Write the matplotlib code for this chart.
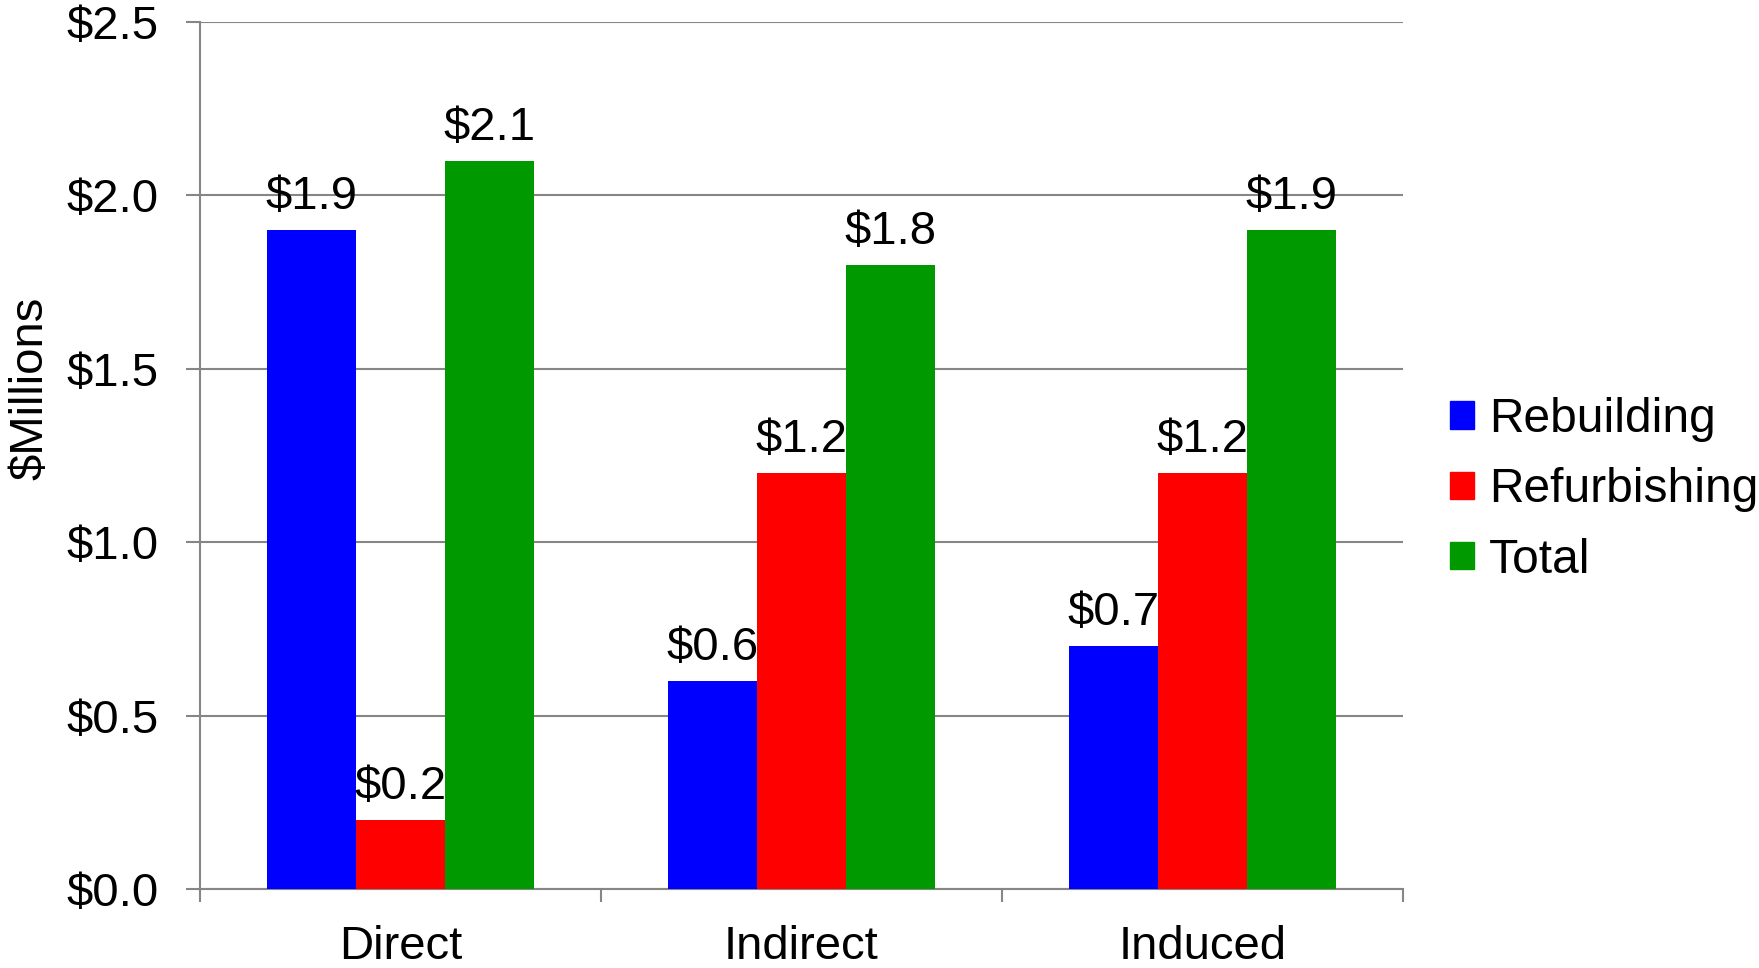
import matplotlib.pyplot as plt
import numpy as np
from matplotlib.patches import Rectangle


categories = ["Direct", "Indirect", "Induced"]
series_names = ["Rebuilding", "Refurbishing", "Total"]
rebuilding = [1.9, 0.6, 0.7]
refurbishing = [0.2, 1.2, 1.2]
total = [2.1, 1.8, 1.9]
y_ticks = [0.0, 0.5, 1.0, 1.5, 2.0, 2.5]

COLORS = ["#0000FF", "#FF0000", "#009900"]
GRID = "#868686"
FONT_SIZE = 34

plt.rcParams["font.family"] = ["Liberation Sans", "DejaVu Sans"]


def main():
    fig = plt.figure(figsize=(17.59, 9.68), dpi=100)
    ax = fig.add_axes([0.1137, 0.0816, 0.6839, 0.8957])

    x = np.arange(len(categories))
    bar_width = 1 / 4.5  # excel gap width 150%
    values = [rebuilding, refurbishing, total]

    for i, (name, vals) in enumerate(zip(series_names, values)):
        offset = (i - 1) * bar_width
        bars = ax.bar(x + offset, vals, width=bar_width, color=COLORS[i],
                      label=name, zorder=3)
        for rect, v in zip(bars, vals):
            ax.annotate(f"${v:.1f}",
                        (rect.get_x() + rect.get_width() / 2, v),
                        xytext=(0, 8), textcoords="offset points",
                        ha="center", va="bottom", fontsize=FONT_SIZE, zorder=4)

    ax.set_xlim(-0.5, len(categories) - 0.5)
    ax.set_ylim(0, 2.5)

    ax.set_yticks(y_ticks)
    ax.set_yticklabels([f"${t:.1f}" for t in y_ticks])
    ax.grid(axis="y", color=GRID, linewidth=1.5, zorder=0)
    ax.tick_params(axis="y", length=10, width=1.5, color=GRID, pad=20,
                   labelsize=FONT_SIZE)

    # category boundaries as major ticks, names on minor ticks
    ax.set_xticks(np.arange(-0.5, len(categories), 1.0))
    ax.set_xticklabels([])
    ax.set_xticks(x, minor=True)
    ax.set_xticklabels(categories, minor=True)
    ax.tick_params(axis="x", which="major", length=9, width=1.5, color=GRID)
    ax.tick_params(axis="x", which="minor", length=0, pad=26,
                   labelsize=FONT_SIZE)

    for side in ["top", "right"]:
        ax.spines[side].set_visible(False)
    for side in ["left", "bottom"]:
        ax.spines[side].set_color(GRID)
        ax.spines[side].set_linewidth(1.5)

    ax.set_ylabel("$Millions", fontsize=FONT_SIZE)
    ax.yaxis.set_label_coords(-0.123, 0.577)

    handles = [Rectangle((0, 0), 1, 1, color=c) for c in COLORS]
    fig.legend(handles, series_names, loc="center left",
               bbox_to_anchor=(0.8246, 0.494), frameon=False,
               fontsize=34.5, handlelength=0.5, handleheight=0.5,
               handletextpad=0.3, labelspacing=0.53, borderpad=0,
               borderaxespad=0)

    fig.savefig("out.png", dpi=100)
    plt.close(fig)


if __name__ == "__main__":
    main()
